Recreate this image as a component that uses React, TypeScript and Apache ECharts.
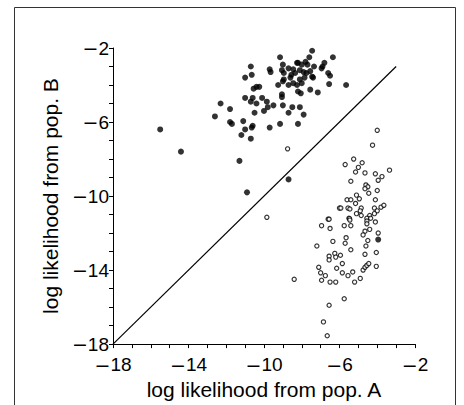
import React, { useEffect, useRef } from "react";
import * as echarts from "echarts";

// Axis ranges and ticks
const X_MIN = -18;
const X_MAX = -2;
const Y_MIN = -18;
const Y_MAX = -2;
const TICK_STEP = 4;

const X_NAME = "log likelihood from pop. A";
const Y_NAME = "log likelihood from pop. B";

// Reference line y = x
const DIAGONAL: number[][] = [
  [-18, -18],
  [-3, -3],
];

// Filled dots: individuals sampled from population B
const popBPoints: number[][] = [
  [-15.5, -6.4], [-14.4, -7.6], [-11.3, -8.1], [-8.7, -9.1], [-10.9, -9.8],
  [-12.6, -5.7], [-12.3, -5.0], [-11.8, -5.3], [-11.8, -6.0], [-11.7, -6.1],
  [-11.1, -5.95], [-11.0, -6.4], [-11.2, -6.7], [-10.7, -6.9], [-10.6, -6.2],
  [-10.65, -6.3], [-11.0, -4.7], [-10.6, -4.7], [-10.7, -4.9], [-10.4, -5.0],
  [-10.5, -5.5], [-10.0, -5.4], [-9.8, -5.2], [-10.1, -4.7], [-9.85, -4.9],
  [-9.5, -5.1], [-9.0, -5.1], [-8.5, -5.2], [-8.1, -5.2], [-8.7, -5.5],
  [-7.9, -5.6], [-9.7, -6.3], [-9.15, -6.1], [-8.2, -6.1], [-11.0, -3.6],
  [-10.7, -3.0], [-10.65, -3.45], [-10.4, -4.1], [-10.55, -4.2], [-10.25, -4.1],
  [-9.7, -3.15], [-9.65, -3.3], [-9.15, -2.5], [-9.0, -2.9], [-9.05, -3.2],
  [-8.95, -3.35], [-8.45, -3.15], [-8.35, -3.35], [-8.2, -2.8], [-9.0, -3.8],
  [-9.25, -4.0], [-8.7, -4.0], [-8.45, -3.9], [-9.05, -4.5], [-9.05, -4.65],
  [-7.45, -2.15], [-6.35, -2.5], [-7.6, -2.5], [-7.8, -2.75], [-8.0, -2.9],
  [-7.7, -2.9], [-7.35, -3.0], [-6.9, -3.0], [-6.8, -2.8], [-8.7, -3.1],
  [-8.55, -3.45], [-8.1, -3.2], [-7.9, -3.3], [-7.75, -3.35], [-7.55, -3.25],
  [-7.45, -3.55], [-7.85, -3.6], [-8.1, -3.7], [-8.6, -3.6], [-8.95, -3.7],
  [-6.6, -3.35], [-6.5, -3.5], [-6.95, -3.1], [-7.4, -3.6], [-8.25, -4.0],
  [-8.0, -3.9], [-6.55, -3.95], [-5.65, -4.0], [-7.55, -4.25], [-7.15, -4.4],
  [-8.2, -4.35], [-8.05, -4.45], [-8.25, -2.8], [-3.95, -12.35],
];

// Open circles: individuals sampled from population A
const popAPoints: number[][] = [
  [-4.0, -6.45], [-4.25, -7.25], [-8.75, -7.45], [-9.85, -11.15], [-5.7, -8.3],
  [-5.25, -8.0], [-4.8, -8.2], [-5.0, -8.45], [-5.15, -8.7], [-4.65, -8.75],
  [-4.1, -8.8], [-3.75, -8.95], [-3.35, -8.6], [-3.95, -9.15], [-5.4, -9.2],
  [-4.6, -9.4], [-4.5, -9.5], [-4.65, -9.6], [-4.0, -9.7], [-4.45, -9.85],
  [-5.1, -9.95], [-5.6, -10.2], [-5.4, -10.2], [-4.95, -10.15], [-4.1, -10.2],
  [-5.15, -10.4], [-6.0, -10.65], [-5.93, -10.65], [-5.55, -10.65], [-5.45, -10.7],
  [-4.85, -10.65], [-4.9, -10.8], [-4.15, -10.65], [-4.0, -10.8], [-3.8, -10.6],
  [-3.65, -10.5], [-5.1, -10.95], [-4.85, -11.05], [-4.4, -11.05], [-4.55, -11.2],
  [-4.15, -10.95], [-6.6, -11.25], [-6.55, -11.25], [-5.5, -11.2], [-5.47, -11.22],
  [-5.45, -11.3], [-4.35, -11.2], [-4.55, -11.35], [-4.1, -11.4], [-6.95, -11.6],
  [-6.5, -11.75], [-5.75, -11.6], [-5.4, -11.6], [-4.55, -11.5], [-4.4, -11.8],
  [-4.65, -11.9], [-3.95, -12.0], [-4.75, -12.1], [-5.65, -12.25], [-5.7, -12.55],
  [-6.35, -12.45], [-7.2, -12.7], [-4.5, -12.4], [-4.6, -12.7], [-5.4, -12.9],
  [-4.05, -13.05], [-4.65, -13.15], [-6.55, -13.25], [-6.55, -13.45], [-6.25, -13.1],
  [-6.2, -13.3], [-5.95, -13.2], [-5.85, -13.65], [-7.1, -13.85], [-7.0, -14.15],
  [-6.75, -14.3], [-6.95, -14.55], [-6.15, -13.9], [-5.85, -14.15], [-5.55, -14.3],
  [-5.3, -14.1], [-4.75, -14.0], [-4.65, -13.85], [-4.55, -13.75], [-4.45, -13.65],
  [-4.05, -13.8], [-6.5, -14.65], [-6.2, -14.65], [-5.2, -14.65], [-4.9, -14.45],
  [-8.4, -14.5], [-5.75, -15.55], [-6.55, -15.9], [-6.85, -16.8], [-6.65, -17.55],
];

const FONT = "'Liberation Sans', Arial, Helvetica, sans-serif";

// Tick label: long minus sign (as in the reference) followed by the digits
const fmt = (v: number) => (v < 0 ? "{m|\u2212}{d|" + Math.abs(v) + "}" : "{d|" + v + "}");

const richLabel = {
  m: { fontFamily: "'DejaVu Sans', sans-serif", fontSize: 19, color: "#000", lineHeight: 19 },
  d: { fontFamily: FONT, fontSize: 19, color: "#000", lineHeight: 19 },
};

export default function App() {
  const ref = useRef<HTMLDivElement>(null);

  useEffect(() => {
    if (!ref.current) return;
    const chart = echarts.init(ref.current, undefined, { renderer: "svg" });

    const axisCommon = {
      type: "value" as const,
      interval: TICK_STEP,
      splitLine: { show: false },
      axisLine: { show: true, onZero: false, lineStyle: { color: "#000", width: 1 } },
      axisTick: { show: true, inside: false, length: 4, lineStyle: { color: "#000", width: 1 } },
      minorTick: { show: true, splitNumber: 4, length: 4, lineStyle: { color: "#000", width: 1 } },
      minorSplitLine: { show: false },
      nameLocation: "middle" as const,
      nameTextStyle: { fontFamily: FONT, fontSize: 21, color: "#000" },
    };

    chart.setOption({
      animation: false,
      backgroundColor: "#fff",
      grid: { left: 113, right: 49, top: 48, bottom: 58.5, containLabel: false },
      xAxis: {
        ...axisCommon,
        min: X_MIN,
        max: X_MAX,
        name: X_NAME,
        nameGap: 34,
        axisLabel: { formatter: fmt, rich: richLabel, margin: 11 },
      },
      yAxis: {
        ...axisCommon,
        min: Y_MIN,
        max: Y_MAX,
        name: Y_NAME,
        nameGap: 52,
        axisLabel: { formatter: fmt, rich: richLabel, margin: 4 },
      },
      graphic: [
        {
          type: "rect",
          shape: { x: 14.5, y: 7.5, width: 441, height: 430 },
          style: { fill: "none", stroke: "#333", lineWidth: 1 },
          silent: true,
          z: -1,
        },
      ],
      series: [
        {
          type: "line",
          data: DIAGONAL,
          showSymbol: false,
          symbol: "none",
          lineStyle: { color: "#000", width: 1.2 },
          silent: true,
          z: 1,
        },
        {
          type: "scatter",
          data: popBPoints,
          symbol: "circle",
          symbolSize: 6,
          itemStyle: { color: "#000" },
          silent: true,
          z: 3,
        },
        {
          type: "scatter",
          data: popAPoints,
          symbol: "circle",
          symbolSize: 4.2,
          itemStyle: { color: "#fff", borderColor: "#000", borderWidth: 1.2 },
          silent: true,
          z: 2,
        },
      ],
    });

    return () => chart.dispose();
  }, []);

  return (
    <div
      ref={ref}
      style={{ position: "fixed", left: 0, top: 0, width: 464, height: 405, background: "#fff" }}
    />
  );
}
